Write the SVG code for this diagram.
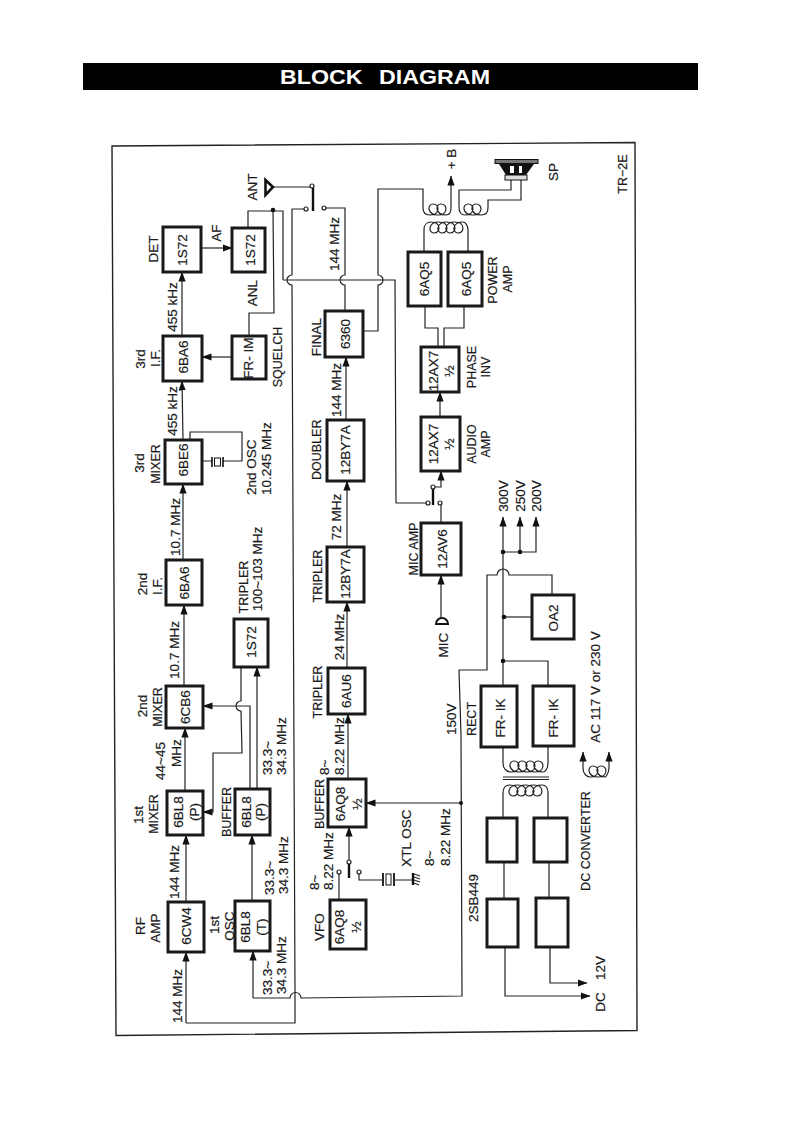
<svg xmlns="http://www.w3.org/2000/svg" width="793" height="1122" viewBox="0 0 793 1122">
<style>
text{font-family:"Liberation Sans",Arial,sans-serif;font-size:13.5px;fill:#1a1a1a;stroke:#1a1a1a;stroke-width:.2;text-anchor:middle}
.s{text-anchor:start}
.sm{font-size:12.5px}
.box{fill:#fff;stroke:#1a1a1a;stroke-width:3}
.w{fill:none;stroke:#222;stroke-width:1.2}
.t{fill:none;stroke:#111;stroke-width:2.4}
.a{marker-end:url(#arr)}
.o{fill:#fff;stroke:#222;stroke-width:1.2}
.d{fill:#111}
</style>
<defs>
<marker id="arr" markerUnits="userSpaceOnUse" markerWidth="10" markerHeight="8" refX="9.5" refY="4" orient="auto"><path d="M0,0.4 L10,4 L0,7.600 Z" fill="#111"/></marker>
</defs>
<rect width="793" height="1122" fill="#fff"/>
<g id="title">
<rect x="83" y="63" width="615" height="27" fill="#000"/>
<text x="385" y="84" textLength="210" lengthAdjust="spacingAndGlyphs" style="font-size:21px;font-weight:bold;fill:#fff;stroke:none;word-spacing:9px">BLOCK DIAGRAM</text>
</g>
<path id="frame" d="M112,146 L635,142.500 L637,1030.500 L116,1035.500 Z" fill="none" stroke="#222" stroke-width="1.400"/>

<g id="connectors">
<path class="w a" d="M183,440 L182,381"/>
<path class="w a" d="M182,336 L182,272"/>
<path class="w a" d="M201,248 L232,248"/>
<path class="w a" d="M232,357 L202,357"/>
<path class="w" d="M248,228 V211 H283 V280"/>
<path class="w" d="M249,336 V313 H274 L273,210"/>
<path class="w a" d="M183,560 V484"/>
<path class="w a" d="M184,686 V605"/>
<path class="w a" d="M185,790 V728"/>
<path class="w a" d="M186,902 V835"/>
<path class="w" d="M190,440 V432 H242 V461 H223 M212,461 H202"/>
<path class="w a" d="M241,667 V701 A5,5 0 0 0 241,711 L242,753 H213 V812 H203"/>
<path class="w a" d="M250,788 V706 H203"/>
<path class="w a" d="M257,788 V667"/>
<path class="w a" d="M252,900 V835"/>
<path class="w a" d="M253,998 V951"/>
<path class="w" d="M273,187 H312"/>
<path class="w" d="M306,209 H292 V275 A5,5 0 0 0 292,285 L295,992 V1023 H186"/>
<path class="w a" d="M186,1023 V952"/>
<path class="w" d="M324,208 H345 V275 A5,5 0 0 0 345,285 V311"/>
<path class="w" d="M283,280 H395 L396,503 H428"/>
<path class="w" d="M363,331 H378 V285 A5,5 0 0 0 378,275 V189 H423 V208 C423,213 426,215 430,215"/>
<path class="w a" d="M346,420 V357"/>
<path class="w a" d="M347,547 V481"/>
<path class="w a" d="M347,668 V602"/>
<path class="w a" d="M348,779 V714"/>
<path class="w a" d="M349,862 V827"/>
<path class="w" d="M339,900 V874"/>
<path class="w" d="M359,874 V880 H382 M395,880 H412"/>
<path class="w a" d="M461,803 H366"/>
<path class="w a" d="M440,417 V392"/>
<path class="w" d="M425,306 V328 H438 V347 M464,306 V328 H444 V347"/>
<path class="w a" d="M441,618 V575"/>
<path class="w" d="M441,523 V505"/>
<path class="w a" d="M435,487 H441 V471"/>
<path class="w a" d="M430,215 c10,0 10,-11 3,-11 c-6,0 -6,11 5,11 c10,0 10,-11 3,-11 c-6,0 -6,11 5,11 C449,215 451,213 451,208 V176"/>
<path class="w" d="M511,180 V190 H459 V207 C459,213 462,215 465,215 c10,0 10,-11 3,-11 c-6,0 -6,11 5,11 c10,0 10,-11 3,-11 c-6,0 -6,11 5,11 C485,215 488,213 488,208 V200 H521 V180"/>
<path class="w" d="M424,252 V230 C424,225 427,222 431,222 c10,0 10,11 3,11 c-6,0 -6,-11 5,-11 c10,0 10,11 3,11 c-6,0 -6,-11 5,-11 c10,0 10,11 3,11 c-6,0 -6,-11 5,-11 c10,0 10,11 3,11 c-6,0 -6,-11 5,-11 C465,222 468,225 468,230 V252"/>
<path class="w a" d="M503,552 V517"/>
<path class="w a" d="M520,552 V517"/>
<path class="w a" d="M503,552 H536 V517"/>
<path class="w" d="M503,552 V686"/>
<path class="w" d="M504,617 H532"/>
<path class="w" d="M503,661 H548 V686"/>
<path class="w" d="M253,998 H290 A5.500,5.500 0 0 1 301,998 L462,996 L461,735 L459,670 H487 V575 H497 A6,6 0 0 1 509,575 H552 V595"/>
<path class="w" d="M503,747 V763 C503,769 507,772 511,772 c10,0 10,-11 3,-11 c-6,0 -6,11 5,11 c10,0 10,-11 3,-11 c-6,0 -6,11 5,11 c10,0 10,-11 3,-11 c-6,0 -6,11 5,11 c10,0 10,-11 3,-11 c-6,0 -6,11 5,11 C545,772 548,769 548,763 V747"/>
<path class="w" d="M503,777 H549 M503,779.500 H549"/>
<path class="w" d="M503,818 V793 C503,787 506,785 510,785 c10,0 10,11 3,11 c-6,0 -6,-11 5,-11 c10,0 10,11 3,11 c-6,0 -6,-11 5,-11 c10,0 10,11 3,11 c-6,0 -6,-11 5,-11 c10,0 10,11 3,11 c-6,0 -6,-11 5,-11 C545,785 548,787 548,793 V818"/>
<path class="w" d="M504,862 V899 M549,862 V898"/>
<path class="w a" d="M505,947 V996 H590"/>
<path class="w a" d="M550,947 V983 H587"/>
<path class="w a" d="M583,768 V752"/>
<path class="w a" d="M609,768 V752"/>
<path class="w" d="M583,768 C583,774 587,777 590,777 c10,0 10,-11 3,-11 c-6,0 -6,11 5,11 c10,0 10,-11 3,-11 c-6,0 -6,11 5,11 C605,777 609,774 609,768"/>
<circle class="d" cx="273" cy="210" r="2.300"/>
<circle class="d" cx="503" cy="552" r="2.300"/>
<circle class="d" cx="520" cy="552" r="2.300"/>
<circle class="d" cx="504" cy="617" r="2.300"/>
<circle class="d" cx="503" cy="661" r="2.300"/>
<circle class="d" cx="461" cy="803" r="2"/>
<path class="t" d="M313,188 V211"/>
<circle class="o" cx="312" cy="186" r="2"/>
<circle class="o" cx="306" cy="209" r="2"/>
<circle class="o" cx="324" cy="208" r="2"/>
<path class="t" d="M433,489 V505"/>
<circle class="o" cx="433" cy="487" r="2"/>
<circle class="o" cx="428" cy="503" r="2"/>
<circle class="o" cx="440" cy="503" r="2"/>
<path class="t" d="M349,864 V878"/>
<circle class="o" cx="349" cy="862" r="2"/>
<circle class="o" cx="339" cy="872" r="2"/>
<circle class="o" cx="359" cy="872" r="2"/>
</g>

<g id="antenna"><path d="M265.500,180 L273,187 L265.500,195 Z" fill="#fff" stroke="#111" stroke-width="2.600"/><text x="256.500" y="187" transform="rotate(-90 256.500 187)">ANT</text></g>
<g id="speaker">
<rect x="495" y="159.500" width="43" height="4" fill="#777" stroke="#111"/>
<path d="M499,164 H534 L526,175 H506 Z" fill="#111"/>
<path d="M510,166 H522 V173 H510 Z" fill="#fff"/>
<path d="M514,166 H519 V173 H514 Z" fill="#111"/>
<rect x="505" y="175" width="22" height="5" fill="#ddd" stroke="#111"/>
<text x="558" y="172" transform="rotate(-90 558 172)">SP</text>
</g>
<g id="xtal2"><path class="t" style="stroke-width:1.600" d="M212,457 V467 M223,457 V467"/><rect x="214.500" y="458" width="6" height="8" fill="#fff" stroke="#111"/></g>
<g id="xtal1"><path class="t" style="stroke-width:1.800" d="M383,873 V886 M394,873 V886"/><rect x="386" y="874" width="5" height="11" fill="#fff" stroke="#111"/></g>
<g id="ground"><path class="t" d="M413,873 V885"/><path class="w" d="M414,874 L420,876 M414,877 L420,879 M414,880 L420,882 M414,883 L419,885"/></g>
<g id="mic"><path d="M436,624 A6,6 0 0 1 448,624 Z" fill="#fff" stroke="#111" stroke-width="2"/><text x="448" y="645" transform="rotate(-90 448 645)">MIC</text></g>

<g id="n-det"><rect class="box" x="163" y="227" width="38" height="45"/><text x="158" y="249" transform="rotate(-90 158 249)">DET</text><text x="187" y="250" transform="rotate(-90 187 250)">1S72</text></g>
<g id="n-anl"><rect class="box" x="232" y="228" width="33" height="44"/><text x="255" y="250" transform="rotate(-90 255 250)">1S72</text></g>
<g id="n-3if"><rect class="box" x="163" y="336" width="39" height="45"/><text x="145" y="359" transform="rotate(-90 145 359)">3rd</text><text x="160" y="358" transform="rotate(-90 160 358)">I.F.</text><text x="188" y="357" transform="rotate(-90 188 357)">6BA6</text></g>
<g id="n-squelch"><rect class="box" x="232" y="336" width="34" height="43"/><text x="253" y="358" transform="rotate(-90 253 358)">FR- IM</text><text x="282" y="357" class="sm" transform="rotate(-90 282 357)">SQUELCH</text></g>
<g id="n-3mix"><rect class="box" x="165" y="440" width="37" height="44"/><text x="144" y="463" transform="rotate(-90 144 463)">3rd</text><text x="160" y="464" class="sm" transform="rotate(-90 160 464)">MIXER</text><text x="188" y="460" transform="rotate(-90 188 460)">6BE6</text></g>
<g id="n-2if"><rect class="box" x="166" y="560" width="36" height="45"/><text x="147" y="584" transform="rotate(-90 147 584)">2nd</text><text x="162" y="586" transform="rotate(-90 162 586)">I.F.</text><text x="189" y="583" transform="rotate(-90 189 583)">6BA6</text></g>
<g id="n-2mix"><rect class="box" x="166" y="686" width="37" height="42"/><text x="147" y="706" transform="rotate(-90 147 706)">2nd</text><text x="162" y="707" class="sm" transform="rotate(-90 162 707)">MIXER</text><text x="190" y="707" transform="rotate(-90 190 707)">6CB6</text></g>
<g id="n-1mix"><rect class="box" x="167" y="791" width="36" height="44"/><text x="143" y="815" transform="rotate(-90 143 815)">1st</text><text x="158" y="814" class="sm" transform="rotate(-90 158 814)">MIXER</text><text x="183" y="812" transform="rotate(-90 183 812)">6BL8</text><text x="199" y="812" transform="rotate(-90 199 812)">(P)</text></g>
<g id="n-rf"><rect class="box" x="168" y="902" width="36" height="50"/><text x="145" y="926" transform="rotate(-90 145 926)">RF</text><text x="160" y="928" transform="rotate(-90 160 928)">AMP</text><text x="191" y="926" transform="rotate(-90 191 926)">6CW4</text></g>
<g id="n-trip100"><rect class="box" x="234" y="619" width="34" height="48"/><text x="248" y="587" class="sm" transform="rotate(-90 248 587)">TRIPLER</text><text x="255.500" y="642" transform="rotate(-90 255.500 642)">1S72</text></g>
<g id="n-buf1"><rect class="box" x="235" y="789" width="35" height="46"/><text x="231" y="812" class="sm" transform="rotate(-90 231 812)">BUFFER</text><text x="251" y="812" transform="rotate(-90 251 812)">6BL8</text><text x="265" y="812" transform="rotate(-90 265 812)">(P)</text></g>
<g id="n-1osc"><rect class="box" x="235" y="901" width="35" height="50"/><text x="219" y="925" transform="rotate(-90 219 925)">1st</text><text x="234" y="926" transform="rotate(-90 234 926)">OSC</text><text x="250" y="927" transform="rotate(-90 250 927)">6BL8</text><text x="266" y="927" transform="rotate(-90 266 927)">(T)</text></g>
<g id="n-final"><rect class="box" x="325" y="311" width="38" height="46"/><text x="320.500" y="337" transform="rotate(-90 320.500 337)">FINAL</text><text x="350" y="334" transform="rotate(-90 350 334)">6360</text></g>
<g id="n-doubler"><rect class="box" x="327" y="420" width="37" height="61"/><text x="321" y="480" class="s sm" transform="rotate(-90 321 480)">DOUBLER</text><text x="350" y="450" transform="rotate(-90 350 450)">12BY7A</text></g>
<g id="n-trip72"><rect class="box" x="327" y="547" width="37" height="55"/><text x="321.500" y="576" class="sm" transform="rotate(-90 321.500 576)">TRIPLER</text><text x="350" y="574" transform="rotate(-90 350 574)">12BY7A</text></g>
<g id="n-trip24"><rect class="box" x="328" y="668" width="37" height="46"/><text x="321.500" y="692" class="sm" transform="rotate(-90 321.500 692)">TRIPLER</text><text x="351" y="691" transform="rotate(-90 351 691)">6AU6</text></g>
<g id="n-buf2"><rect class="box" x="328" y="779" width="38" height="48"/><text x="324" y="804" class="sm" transform="rotate(-90 324 804)">BUFFER</text><text x="345" y="804" transform="rotate(-90 345 804)">6AQ8</text><text x="362" y="804" transform="rotate(-90 362 804)">½</text></g>
<g id="n-vfo"><rect class="box" x="330" y="900" width="36" height="49"/><text x="324" y="927" transform="rotate(-90 324 927)">VFO</text><text x="344" y="927" transform="rotate(-90 344 927)">6AQ8</text><text x="361" y="927" transform="rotate(-90 361 927)">½</text></g>
<g id="n-pa1"><rect class="box" x="408" y="252" width="33" height="54"/><text x="429" y="279" transform="rotate(-90 429 279)">6AQ5</text></g>
<g id="n-pa2"><rect class="box" x="448" y="252" width="34" height="54"/><text x="471" y="279" transform="rotate(-90 471 279)">6AQ5</text><text x="497" y="280" class="sm" transform="rotate(-90 497 280)">POWER</text><text x="512" y="279" class="sm" transform="rotate(-90 512 279)">AMP</text></g>
<g id="n-phase"><rect class="box" x="421" y="347" width="38" height="45"/><text x="438" y="371" transform="rotate(-90 438 371)">12AX7</text><text x="454" y="371" transform="rotate(-90 454 371)">½</text><text x="475.500" y="367" class="sm" transform="rotate(-90 475.500 367)">PHASE</text><text x="490" y="367" class="sm" transform="rotate(-90 490 367)">INV</text></g>
<g id="n-audio"><rect class="box" x="421" y="417" width="39" height="54"/><text x="438" y="444" transform="rotate(-90 438 444)">12AX7</text><text x="454" y="444" transform="rotate(-90 454 444)">½</text><text x="475.500" y="444" class="sm" transform="rotate(-90 475.500 444)">AUDIO</text><text x="490" y="444" class="sm" transform="rotate(-90 490 444)">AMP</text></g>
<g id="n-mic"><rect class="box" x="421" y="523" width="40" height="52"/><text x="418" y="549" class="sm" transform="rotate(-90 418 549)">MIC  AMP</text><text x="447" y="549" transform="rotate(-90 447 549)">12AV6</text></g>
<g id="n-oa2"><rect class="box" x="532" y="595" width="42" height="44"/><text x="558" y="618" transform="rotate(-90 558 618)">OA2</text></g>
<g id="n-rect1"><rect class="box" x="481" y="686" width="36" height="61"/><text x="476" y="736" class="s sm" transform="rotate(-90 476 736)">RECT</text><text x="505" y="718" transform="rotate(-90 505 718)">FR- IK</text></g>
<g id="n-rect2"><rect class="box" x="533" y="686" width="41" height="60"/><text x="558" y="718" transform="rotate(-90 558 718)">FR- IK</text></g>
<g id="n-conv1"><rect class="box" x="487" y="818" width="30" height="44"/></g>
<g id="n-conv2"><rect class="box" x="534" y="818" width="33" height="44"/></g>
<g id="n-2sb1"><rect class="box" x="487" y="899" width="31" height="48"/></g>
<g id="n-2sb2"><rect class="box" x="536" y="898" width="32" height="49"/></g>

<g id="labels">
<text x="221" y="233" transform="rotate(-90 221 233)">AF</text>
<text x="256.500" y="293" transform="rotate(-90 256.500 293)">ANL</text>
<text x="177" y="307" transform="rotate(-90 177 307)">455 kHz</text>
<text x="177" y="411" transform="rotate(-90 177 411)">455 kHz</text>
<text x="339" y="244" transform="rotate(-90 339 244)">144 MHz</text>
<text x="341" y="390" transform="rotate(-90 341 390)">144 MHz</text>
<text x="456" y="159" transform="rotate(-90 456 159)">+ B</text>
<text x="627" y="174" class="sm" transform="rotate(-90 627 174)">TR−2E</text>
<text x="256" y="495" class="s" transform="rotate(-90 256 495)">2nd OSC</text>
<text x="271" y="495" class="s" transform="rotate(-90 271 495)">10.245 MHz</text>
<text x="180" y="527" transform="rotate(-90 180 527)">10.7 MHz</text>
<text x="179" y="650" transform="rotate(-90 179 650)">10.7 MHz</text>
<text x="262" y="569" transform="rotate(-90 262 569)">100~103 MHz</text>
<text x="341" y="517" transform="rotate(-90 341 517)">72 MHz</text>
<text x="344" y="637" transform="rotate(-90 344 637)">24 MHz</text>
<text x="165" y="761" transform="rotate(-90 165 761)">44~45</text>
<text x="181" y="753" transform="rotate(-90 181 753)">MHz</text>
<text x="272" y="775" class="s" transform="rotate(-90 272 775)">33.3~</text>
<text x="286" y="775" class="s" transform="rotate(-90 286 775)">34.3 MHz</text>
<text x="179" y="872" transform="rotate(-90 179 872)">144 MHz</text>
<text x="274" y="895" class="s" transform="rotate(-90 274 895)">33.3~</text>
<text x="288" y="894" class="s" transform="rotate(-90 288 894)">34.3 MHz</text>
<text x="182" y="996" transform="rotate(-90 182 996)">144 MHz</text>
<text x="272" y="995" class="s" transform="rotate(-90 272 995)">33.3~</text>
<text x="286" y="994" class="s" transform="rotate(-90 286 994)">34.3 MHz</text>
<text x="329" y="775" class="s" transform="rotate(-90 329 775)">8~</text>
<text x="344" y="775" class="s" transform="rotate(-90 344 775)">8.22 MHz</text>
<text x="319" y="890" class="s" transform="rotate(-90 319 890)">8~</text>
<text x="333" y="890" class="s" transform="rotate(-90 333 890)">8.22 MHz</text>
<text x="411" y="838" transform="rotate(-90 411 838)">XTL OSC</text>
<text x="434" y="866" class="s" transform="rotate(-90 434 866)">8~</text>
<text x="450" y="866" class="s" transform="rotate(-90 450 866)">8.22 MHz</text>
<text x="478" y="898" transform="rotate(-90 478 898)">2SB449</text>
<text x="456" y="735" class="s" transform="rotate(-90 456 735)">150V</text>
<text x="508" y="496" transform="rotate(-90 508 496)">300V</text>
<text x="525" y="496" transform="rotate(-90 525 496)">250V</text>
<text x="541" y="496" transform="rotate(-90 541 496)">200V</text>
<text x="600" y="687" transform="rotate(-90 600 687)">AC 117 V or 230 V</text>
<text x="590" y="841" class="sm" transform="rotate(-90 590 841)">DC CONVERTER</text>
<text x="605" y="968" transform="rotate(-90 605 968)">12V</text>
<text x="605" y="1002" transform="rotate(-90 605 1002)">DC</text>
</g>
</svg>
